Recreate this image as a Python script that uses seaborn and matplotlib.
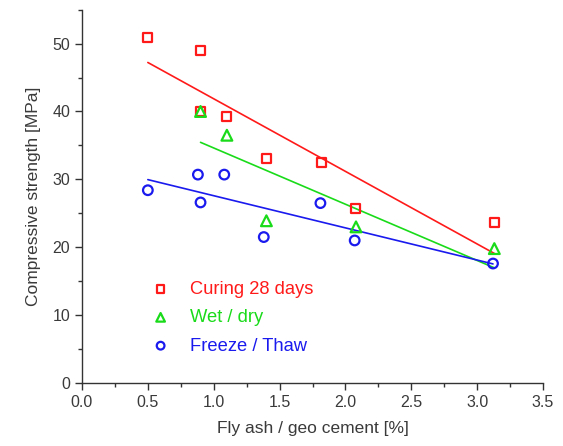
import numpy as np
import pandas as pd
import seaborn as sns
import matplotlib.pyplot as plt
from matplotlib.ticker import MultipleLocator

# datos
curing_x = [0.50, 0.90, 0.90, 1.10, 1.40, 1.82, 2.08, 3.13]
curing_y = [50.9, 49.0, 40.0, 39.3, 33.0, 32.5, 25.7, 23.6]
wetdry_x = [0.90, 1.10, 1.40, 2.08, 3.13]
wetdry_y = [40.0, 36.5, 23.9, 23.0, 19.8]
freeze_x = [0.50, 0.88, 0.90, 1.08, 1.38, 1.81, 2.07, 3.12]
freeze_y = [28.4, 30.7, 26.6, 30.7, 21.5, 26.5, 21.0, 17.6]

labels = ["Curing 28 days", "Wet / dry", "Freeze / Thaw"]
colores = ["#ff1a1a", "#1adb1a", "#1a1aee"]
marcadores = ["s", "^", "o"]
tamanos = [42, 60, 48]

sns.set_theme(style="ticks")
plt.rcParams['font.family'] = ['Liberation Sans', 'DejaVu Sans']

fig = plt.figure(figsize=(5.63, 4.46), dpi=100)
ax = fig.add_axes([0.1456, 0.1413, 0.819, 0.837])

series = [(curing_x, curing_y), (wetdry_x, wetdry_y), (freeze_x, freeze_y)]
handles = []
for (xs, ys), lab, c, m, sz in zip(series, labels, colores, marcadores, tamanos):
    df = pd.DataFrame({"x": xs, "y": ys})
    sns.regplot(data=df, x="x", y="y", ci=None, scatter=False, ax=ax,
                line_kws={"color": c, "lw": 1.2})
    h = ax.scatter(df["x"], df["y"], marker=m, s=sz, facecolors="none",
                   edgecolors=c, linewidths=1.6, label=lab, zorder=3)
    handles.append(h)

ax.set_xlim(0, 3.5)
ax.set_ylim(0, 55)
ax.xaxis.set_major_locator(MultipleLocator(0.5))
ax.xaxis.set_minor_locator(MultipleLocator(0.25))
ax.yaxis.set_major_locator(MultipleLocator(10))
ax.yaxis.set_minor_locator(MultipleLocator(5))
ax.set_xticklabels([f"{v:.1f}" for v in ax.get_xticks()])

for s in ["top", "right"]:
    ax.spines[s].set_visible(False)
for s in ["left", "bottom"]:
    ax.spines[s].set_color("#333333")
    ax.spines[s].set_linewidth(1.0)
ax.tick_params(which="major", direction="out", length=5, width=1, colors="#333333",
               labelsize=11.5, labelcolor="#3a3a3a")
ax.tick_params(which="minor", direction="out", length=3, width=1, colors="#333333")

ax.set_xlabel("Fly ash / geo cement [%]", fontsize=12.5, color="#3a3a3a", labelpad=8)
ax.set_ylabel("Compressive strength [MPa]", fontsize=12.5, color="#3a3a3a", labelpad=8)

ax.legend(handles=handles, labels=labels, loc="upper left", bbox_to_anchor=(0.095, 0.318),
          frameon=False, fontsize=13.2, labelcolor=colores, handletextpad=0.6,
          labelspacing=0.62, markerscale=0.8)

plt.savefig("out.png", dpi=100)
